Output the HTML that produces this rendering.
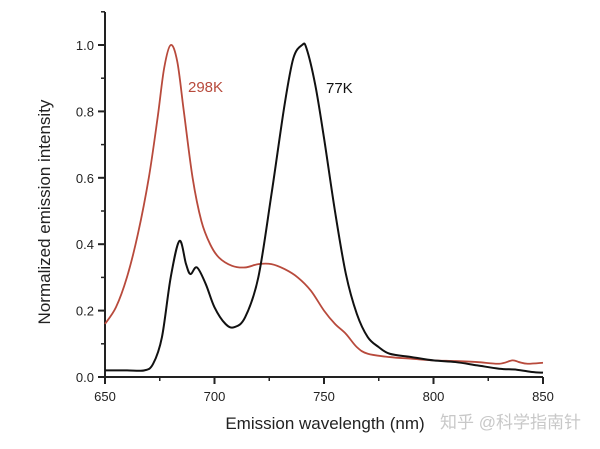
<!DOCTYPE html>
<html><head><meta charset="utf-8"><style>
body{margin:0;background:#fff;}
svg text{font-family:"Liberation Sans","Noto Sans CJK SC",sans-serif;}
</style></head><body>
<svg width="600" height="444">
<g id="axes"></g>
<g id="series"></g>
<text x="188" y="92" fill="#b84a3c" font-size="15">298K</text>
<text x="326" y="93" fill="#111" font-size="15">77K</text>
<text x="325" y="429" text-anchor="middle" font-size="17" fill="#222">Emission wavelength (nm)</text>
<text transform="translate(50,212) rotate(-90)" text-anchor="middle" font-size="17" fill="#222">Normalized emission intensity</text>
<text x="440" y="428" font-size="17" fill="#c8c8c8">知乎 @科学指南针</text>
</svg>
<script>
const xTicks=[650,700,750,800,850];
const yTicks=[0.0,0.2,0.4,0.6,0.8,1.0];
const wl77=[650,660,668,672,676,680,684,687,689,692,696,700,705,709,714,720,726,732,736,740,742,746,750,755,760,765,770,775,780,790,800,810,820,830,838,845,850];
const val77=[0.02,0.02,0.02,0.04,0.12,0.3,0.41,0.34,0.31,0.33,0.28,0.21,0.16,0.15,0.18,0.3,0.55,0.82,0.96,1.0,0.99,0.88,0.72,0.5,0.31,0.19,0.12,0.09,0.07,0.06,0.05,0.045,0.035,0.025,0.022,0.015,0.013];
const wl298=[650,655,660,665,670,674,677,680,683,686,690,694,698,702,708,714,720,726,732,738,744,750,755,760,765,770,780,790,800,810,820,830,836,839,843,850];
const val298=[0.16,0.21,0.3,0.43,0.6,0.78,0.93,1.0,0.95,0.8,0.6,0.47,0.4,0.36,0.335,0.33,0.34,0.34,0.325,0.3,0.26,0.2,0.16,0.13,0.09,0.07,0.06,0.055,0.05,0.048,0.045,0.04,0.05,0.045,0.04,0.043];
const NS="http://www.w3.org/2000/svg";
const X=v=>105+(v-650)*(543-105)/200;
const Y=v=>377-v*332;
function mk(tag,attrs,parent){const e=document.createElementNS(NS,tag);for(const k in attrs)e.setAttribute(k,attrs[k]);parent.appendChild(e);return e;}
const axes=document.getElementById('axes');
let a=mk('path',{d:`M105,12V377H543`,stroke:'#222','stroke-width':2,fill:'none'},axes);


for(let i=0;i<xTicks.length;i++){const t=xTicks[i];
 let l=mk('line',{x1:X(t),x2:X(t),y1:377,y2:384,stroke:'#222','stroke-width':2},axes);
 
 
 if(i<xTicks.length-1){let m=mk('line',{x1:X(t+25),x2:X(t+25),y1:377,y2:381,stroke:'#222','stroke-width':1.5},axes);
 
 }
 let tx=mk('text',{x:X(t),y:401,'text-anchor':'middle','font-size':13,fill:'#222'},axes);tx.textContent=t;
 
 }
for(let i=0;i<yTicks.length;i++){const t=yTicks[i];
 let l=mk('line',{x1:98,x2:105,y1:Y(t),y2:Y(t),stroke:'#222','stroke-width':2},axes);
 
 
 let m=mk('line',{x1:101,x2:105,y1:Y(t+0.1),y2:Y(t+0.1),stroke:'#222','stroke-width':1.5},axes);
 
 
 let tx=mk('text',{x:94,y:Y(t)+5,'text-anchor':'end','font-size':13,fill:'#222'},axes);tx.textContent=t.toFixed(1);
 
 }
function pathD(xs,ys){const p=xs.map((x,i)=>[X(x),Y(ys[i])]);let d=`M${p[0][0]},${p[0][1]}`;
 for(let i=0;i<p.length-1;i++){const p0=p[i-1]||p[i],p1=p[i],p2=p[i+1],p3=p[i+2]||p2;
 d+=`C${p1[0]+(p2[0]-p0[0])/6},${p1[1]+(p2[1]-p0[1])/6} ${p2[0]-(p3[0]-p1[0])/6},${p2[1]-(p3[1]-p1[1])/6} ${p2[0]},${p2[1]}`;}return d;}
const s=document.getElementById('series');
let r=mk('path',{d:pathD(wl298,val298),stroke:'#b84a3c','stroke-width':1.8,fill:'none'},s);


let b=mk('path',{d:pathD(wl77,val77),stroke:'#111','stroke-width':2,fill:'none'},s);


</script>
</body></html>
